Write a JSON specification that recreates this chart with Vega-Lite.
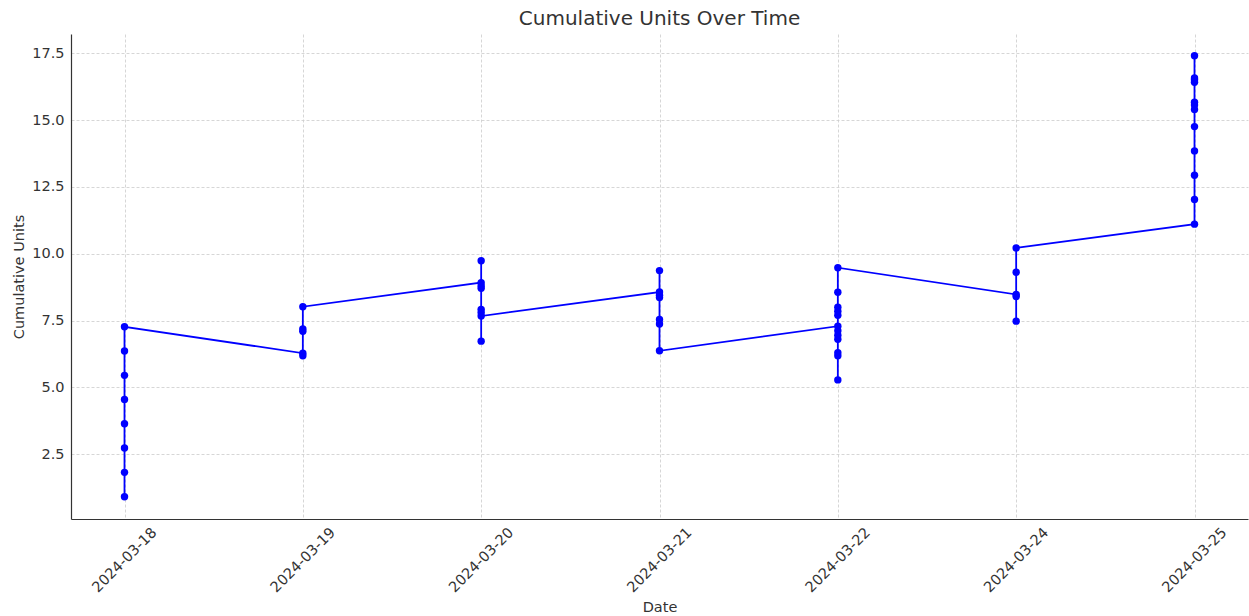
{
  "$schema": "https://vega.github.io/schema/vega-lite/v6.json",
  "width": 1177,
  "height": 485,
  "autosize": {"type": "none"},
  "padding": {"left": 71, "top": 34, "right": 1, "bottom": 97},
  "background": "white",
  "view": {"stroke": null},
  "title": {
    "text": "Cumulative Units Over Time",
    "font": "DejaVu Sans",
    "fontSize": 20,
    "fontWeight": "normal",
    "color": "#333333",
    "offset": 5
  },
  "config": {
    "font": "DejaVu Sans",
    "axis": {
      "labelFont": "DejaVu Sans",
      "titleFont": "DejaVu Sans",
      "labelFontSize": 14.5,
      "titleFontSize": 14.5,
      "titleFontWeight": "normal",
      "labelColor": "#333333",
      "titleColor": "#333333",
      "domainColor": "#333333",
      "domainWidth": 1.2,
      "gridColor": "#cccccc",
      "gridDash": [3, 2],
      "gridWidth": 0.8,
      "ticks": false,
      "tickSize": 0
    }
  },
  "data": {
    "values": [
      {"i": 1, "date": "2024-03-18", "units": 0.91},
      {"i": 2, "date": "2024-03-18", "units": 1.82},
      {"i": 3, "date": "2024-03-18", "units": 2.73},
      {"i": 4, "date": "2024-03-18", "units": 3.64},
      {"i": 5, "date": "2024-03-18", "units": 4.55},
      {"i": 6, "date": "2024-03-18", "units": 5.45},
      {"i": 7, "date": "2024-03-18", "units": 6.36},
      {"i": 8, "date": "2024-03-18", "units": 7.27},
      {"i": 9, "date": "2024-03-19", "units": 6.28},
      {"i": 10, "date": "2024-03-19", "units": 6.18},
      {"i": 11, "date": "2024-03-19", "units": 7.10},
      {"i": 12, "date": "2024-03-19", "units": 7.19},
      {"i": 13, "date": "2024-03-19", "units": 8.02},
      {"i": 14, "date": "2024-03-20", "units": 8.92},
      {"i": 15, "date": "2024-03-20", "units": 8.80},
      {"i": 16, "date": "2024-03-20", "units": 8.71},
      {"i": 17, "date": "2024-03-20", "units": 9.74},
      {"i": 18, "date": "2024-03-20", "units": 6.73},
      {"i": 19, "date": "2024-03-20", "units": 7.92},
      {"i": 20, "date": "2024-03-20", "units": 7.80},
      {"i": 21, "date": "2024-03-20", "units": 7.67},
      {"i": 22, "date": "2024-03-21", "units": 8.57},
      {"i": 23, "date": "2024-03-21", "units": 8.45},
      {"i": 24, "date": "2024-03-21", "units": 8.36},
      {"i": 25, "date": "2024-03-21", "units": 9.37},
      {"i": 26, "date": "2024-03-21", "units": 7.54},
      {"i": 27, "date": "2024-03-21", "units": 7.37},
      {"i": 28, "date": "2024-03-21", "units": 6.37},
      {"i": 29, "date": "2024-03-22", "units": 7.29},
      {"i": 30, "date": "2024-03-22", "units": 7.12},
      {"i": 31, "date": "2024-03-22", "units": 6.95},
      {"i": 32, "date": "2024-03-22", "units": 6.80},
      {"i": 33, "date": "2024-03-22", "units": 6.30},
      {"i": 34, "date": "2024-03-22", "units": 6.18},
      {"i": 35, "date": "2024-03-22", "units": 5.28},
      {"i": 36, "date": "2024-03-22", "units": 7.70},
      {"i": 37, "date": "2024-03-22", "units": 7.85},
      {"i": 38, "date": "2024-03-22", "units": 8.00},
      {"i": 39, "date": "2024-03-22", "units": 8.56},
      {"i": 40, "date": "2024-03-22", "units": 9.48},
      {"i": 41, "date": "2024-03-24", "units": 8.48},
      {"i": 42, "date": "2024-03-24", "units": 8.40},
      {"i": 43, "date": "2024-03-24", "units": 7.48},
      {"i": 44, "date": "2024-03-24", "units": 9.31},
      {"i": 45, "date": "2024-03-24", "units": 10.22},
      {"i": 46, "date": "2024-03-25", "units": 11.11},
      {"i": 47, "date": "2024-03-25", "units": 12.03},
      {"i": 48, "date": "2024-03-25", "units": 12.94},
      {"i": 49, "date": "2024-03-25", "units": 13.85},
      {"i": 50, "date": "2024-03-25", "units": 14.76},
      {"i": 51, "date": "2024-03-25", "units": 15.40},
      {"i": 52, "date": "2024-03-25", "units": 15.57},
      {"i": 53, "date": "2024-03-25", "units": 15.67},
      {"i": 54, "date": "2024-03-25", "units": 16.42},
      {"i": 55, "date": "2024-03-25", "units": 16.51},
      {"i": 56, "date": "2024-03-25", "units": 16.58},
      {"i": 57, "date": "2024-03-25", "units": 17.41}
    ]
  },
  "encoding": {
    "x": {
      "field": "date",
      "type": "ordinal",
      "scale": {"type": "point", "padding": 0.3},
      "axis": {
        "title": "Date",
        "labelAngle": -45,
        "labelAlign": "center",
        "labelBaseline": "middle",
        "labelPadding": 41,
        "titlePadding": 6,
        "grid": true
      }
    },
    "y": {
      "field": "units",
      "type": "quantitative",
      "scale": {"domain": [0.075, 18.225], "nice": false, "zero": false},
      "axis": {
        "title": "Cumulative Units",
        "values": [2.5, 5, 7.5, 10, 12.5, 15, 17.5],
        "format": ".1f",
        "labelPadding": 7,
        "titlePadding": 5,
        "grid": true
      }
    },
    "order": {"field": "i", "type": "quantitative"}
  },
  "layer": [
    {"mark": {"type": "line", "color": "#0000ff", "strokeWidth": 1.8}},
    {"mark": {"type": "point", "filled": true, "opacity": 1, "color": "#0000ff", "size": 55}}
  ]
}
